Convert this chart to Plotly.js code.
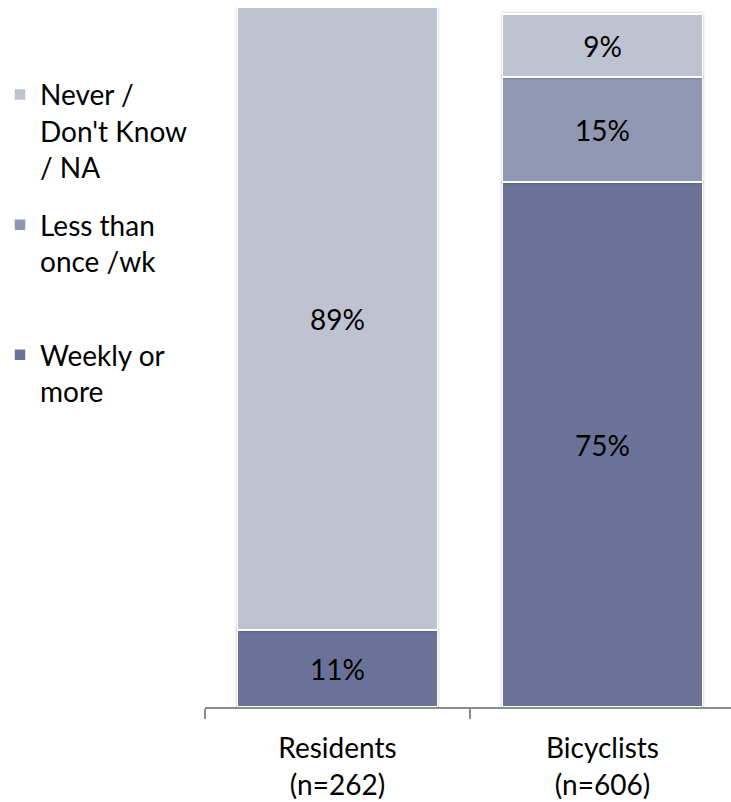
<!DOCTYPE html>
<html>
<head>
<meta charset="utf-8">
<script src="https://cdn.plot.ly/plotly-3.0.1.min.js"></script>
<style>
  html, body { margin: 0; padding: 0; background: #ffffff; }
  #chart { width: 731px; height: 802px; }
  .barlayer .point path { filter: drop-shadow(0px 0px 1.5px rgba(0,0,0,0.25)); }
</style>
</head>
<body>
<div id="chart"></div>
<script>
// Frequency of riding, by survey group (percent of respondents)
const categories = ['Residents<br>(n=262)', 'Bicyclists<br>(n=606)'];
const weeklyOrMore = [11, 75];
const lessThanWeekly = [null, 15];
const neverOrNA = [89, 9];

const seriesNames = ['Weekly or<br>more<br> ', 'Less than<br>once /wk<br> ', 'Never /<br>Don\'t Know<br>/ NA'];
const seriesColors = ['#6a7397', '#9097b3', '#bfc2d1'];
const seriesValues = [weeklyOrMore, lessThanWeekly, neverOrNA];
const legendRanks = [3, 2, 1];

const fontFamily = 'Lato, "Open Sans", sans-serif';
const fontSize = 28;

const traces = seriesValues.map((vals, i) => ({
  type: 'bar',
  x: categories,
  y: vals,
  name: seriesNames[i],
  legendgroup: 'g' + i,
  legendrank: legendRanks[i],
  marker: { color: seriesColors[i], line: { color: '#ffffff', width: 1.5 } },
  text: vals.map(v => (v === null ? '' : v + '%')),
  textposition: 'inside',
  insidetextanchor: 'middle',
  textfont: { family: fontFamily, size: fontSize, color: '#000000' },
  hoverinfo: 'x+y+name'
}));

const layout = {
  width: 731,
  height: 802,
  barmode: 'stack',
  bargap: 0.245,
  paper_bgcolor: '#ffffff',
  plot_bgcolor: '#ffffff',
  font: { family: fontFamily, size: fontSize, color: '#000000' },
  margin: { l: 205, r: 0, t: 7, b: 95 },
  showlegend: true,
  legend: {
    xref: 'container', yref: 'container',
    x: 0, xanchor: 'left',
    y: 0.913, yanchor: 'top',
    traceorder: 'grouped',
    tracegroupgap: 18,
    valign: 'top',
    font: { family: fontFamily, size: fontSize, color: '#000000' },
    bgcolor: 'rgba(0,0,0,0)'
  },
  xaxis: {
    type: 'category',
    range: [-0.5, 1.485],
    showline: true,
    linecolor: '#8c8c8c',
    linewidth: 1.5,
    ticks: 'outside',
    tickson: 'boundaries',
    ticklen: 10,
    tickcolor: '#8c8c8c',
    tickwidth: 1.5,
    ticklabelstandoff: 16,
    showgrid: false,
    tickfont: { family: fontFamily, size: fontSize, color: '#000000' },
    fixedrange: true
  },
  yaxis: {
    range: [0, 100],
    visible: false,
    showgrid: false,
    zeroline: false,
    fixedrange: true
  }
};

Plotly.newPlot('chart', traces, layout, { displayModeBar: false, staticPlot: true });
</script>
</body>
</html>
